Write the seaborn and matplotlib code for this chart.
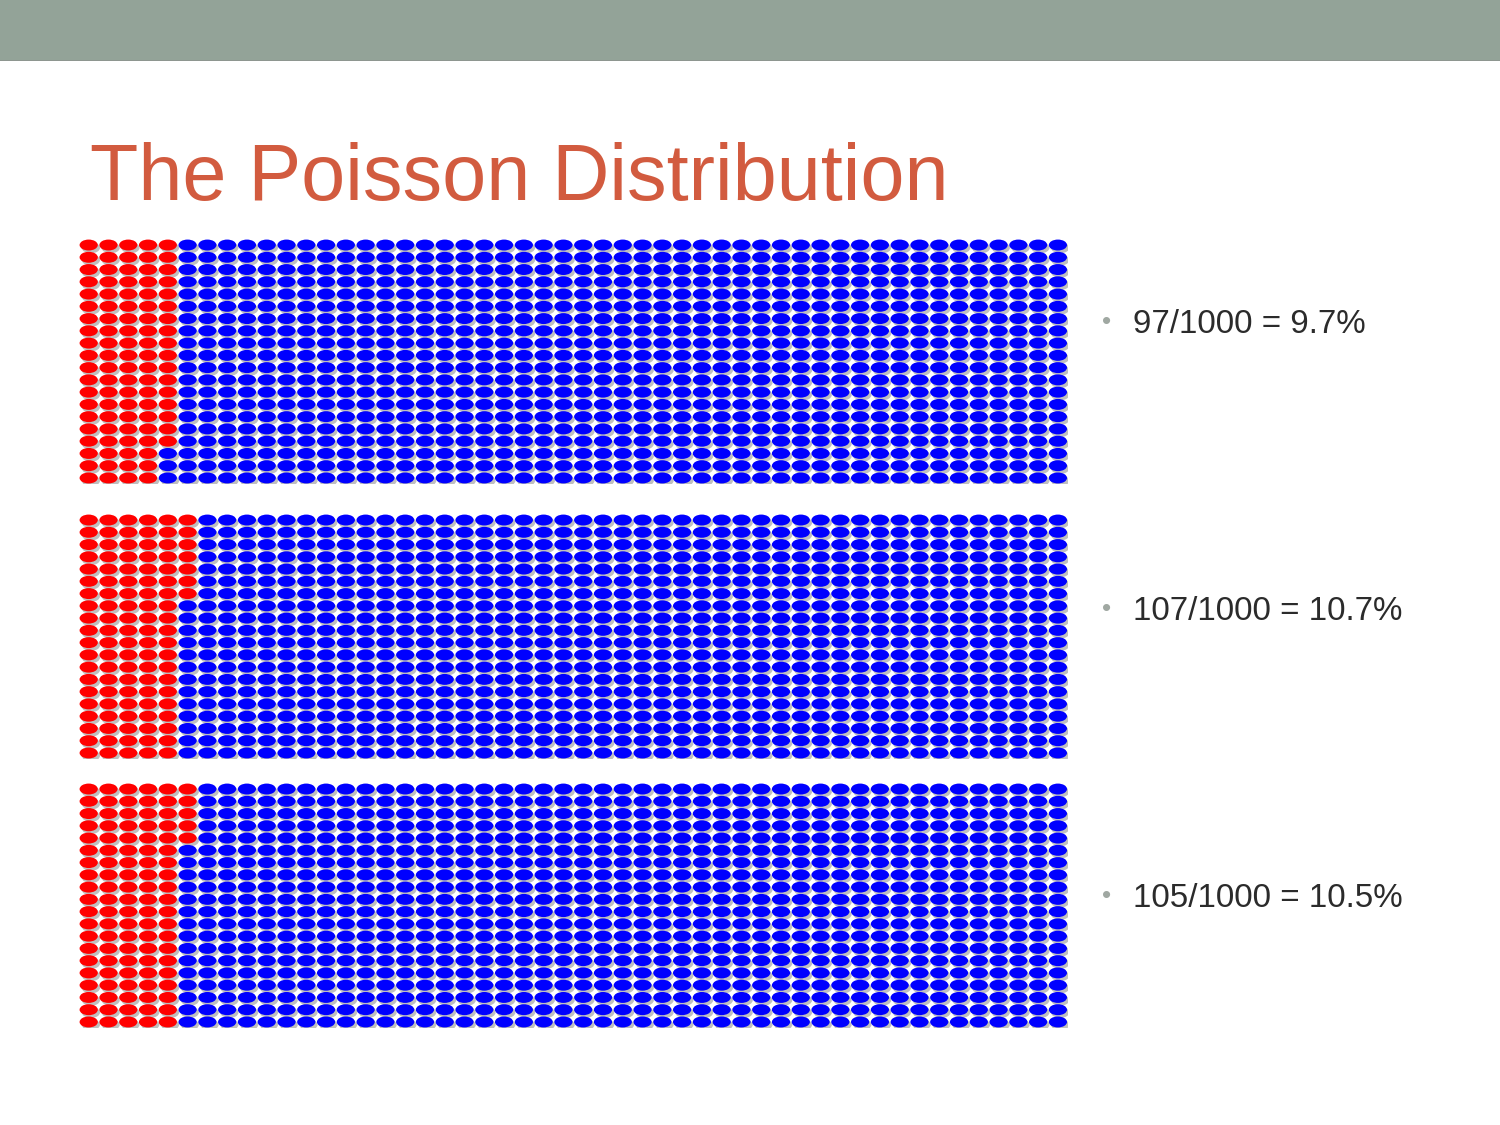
import numpy as np
import pandas as pd
import matplotlib
matplotlib.use("Agg")
import matplotlib.pyplot as plt
import matplotlib.patheffects as pe
from matplotlib.path import Path
from matplotlib.markers import MarkerStyle
import seaborn as sns

# ---- data ----
red_counts = [97, 107, 105]
totals = [1000, 1000, 1000]
labels = ["97/1000 = 9.7%", "107/1000 = 10.7%", "105/1000 = 10.5%"]
title = "The Poisson Distribution"
n_cols = 50
n_rows = 20

sns.set_theme(style="white")
plt.rcParams['font.family'] = ['Liberation Sans', 'DejaVu Sans']

W, H = 1500, 1125
fig = plt.figure(figsize=(15, 11.25), dpi=100)
fig.patch.set_facecolor("white")

# header bar
fig.patches.append(plt.Rectangle((0, 1 - 60 / H), 1, 60 / H, transform=fig.transFigure,
                                 facecolor="#93A398", edgecolor="none", zorder=0))
fig.patches.append(plt.Rectangle((0, 1 - 61 / H), 1, 1.5 / H, transform=fig.transFigure,
                                 facecolor="#8E9690", edgecolor="none", zorder=0))

fig.text(90 / W, 1 - 200 / H, title, color="#D25B3F", fontsize=57,
         ha="left", va="baseline")

# ellipse marker
circ = Path.unit_circle()
ell = Path(circ.vertices * np.array([1.0, 0.6]), circ.codes)
marker = MarkerStyle(ell)

tops = [238.9, 513.9, 782.9]
left_px = 78.8
width_px = 989.0
height_px = 245.2
text_y = [322, 609, 896]

for i, (nred, tot) in enumerate(zip(red_counts, totals)):
    idx = np.arange(tot)
    df = pd.DataFrame({
        "col": idx // n_rows,
        "row": idx % n_rows,
        "kind": np.where(idx < nred, "red", "blue"),
    })
    ax = fig.add_axes([left_px / W, 1 - (tops[i] + height_px) / H, width_px / W, height_px / H])
    sns.scatterplot(data=df, x="col", y="row", hue="kind",
                    palette={"red": "#FF0000", "blue": "#0000FF"},
                    marker=marker, s=172, linewidth=0, legend=False, ax=ax)
    for coll in ax.collections:
        coll.set_path_effects([pe.withSimplePatchShadow(offset=(1.6, -2.0),
                                                        shadow_rgbFace=(0.5, 0.5, 0.5),
                                                        alpha=0.5)])
    ax.set_xlim(-0.5, n_cols - 0.5)
    ax.set_ylim(n_rows - 0.5, -0.5)
    ax.axis("off")

    fig.text(1107 / W, 1 - text_y[i] / H, "•", color="#A0A8A2", fontsize=19,
             ha="center", va="center")
    fig.text(1133 / W, 1 - (text_y[i] + 11) / H, labels[i], color="#2B2B2B",
             fontsize=23.9, ha="left", va="baseline")

fig.savefig("out.png", dpi=100, facecolor="white")
